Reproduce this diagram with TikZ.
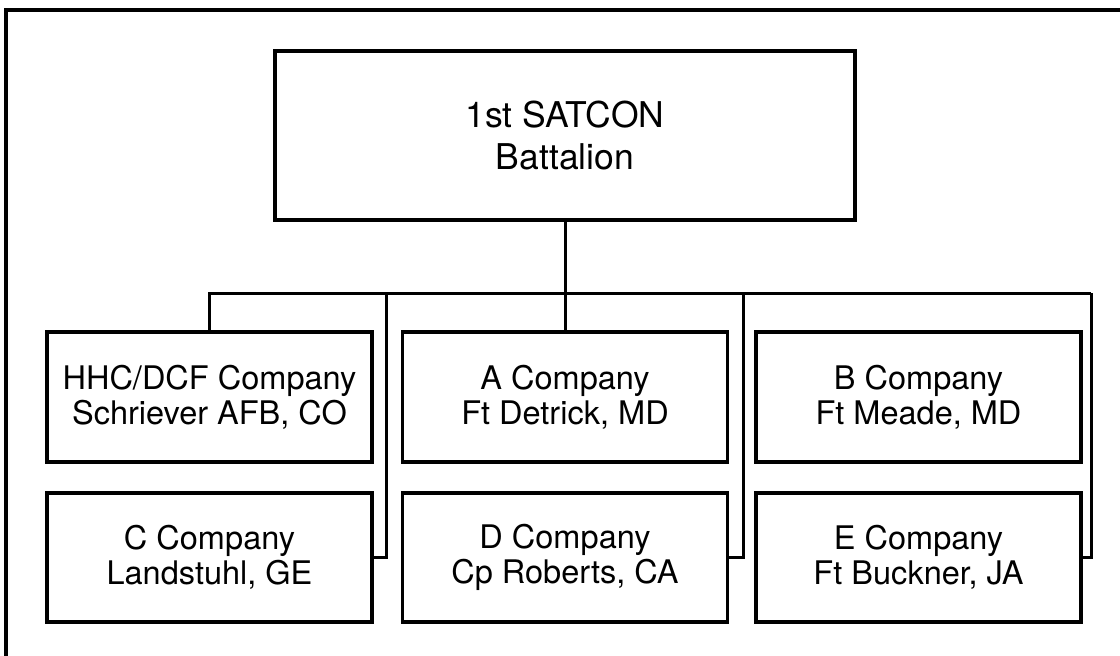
\documentclass[tikz,border=0pt]{standalone}
\usepackage{fontspec}
\setmainfont{TeX Gyre Heros}
\begin{document}
\begin{tikzpicture}[x=1pt,y=-1pt,
  unitbox/.style={draw=black, line width=3.5pt, rectangle, inner sep=0pt, outer sep=0pt,
    minimum width=325pt, minimum height=130pt, align=center,
    font=\fontsize{32.5}{35}\selectfont},
  topbox/.style={draw=black, line width=3.5pt, rectangle, inner sep=0pt, outer sep=0pt,
    minimum width=580pt, minimum height=169pt, align=center,
    font=\fontsize{35.5}{42}\selectfont},
  link/.style={draw=black, line width=3pt},
  frame/.style={draw=black, line width=3.5pt}]
\useasboundingbox (0,0) rectangle (1120,656);
\coordinate (fbl) at (6,660);
\coordinate (ftl) at (6,10);
\coordinate (ftr) at (1124,10);
\draw[frame] (fbl) -- (ftl) -- (ftr);

\node[topbox] (top) at (565,135.5) {1st SATCON\\Battalion};

\node[unitbox] (hhc) at (209.5,397) {HHC/DCF Company\\Schriever AFB, CO};
\node[unitbox] (a) at (565,397) {A Company\\Ft Detrick, MD};
\node[unitbox] (b) at (918.5,397) {B Company\\Ft Meade, MD};
\node[unitbox, minimum height=129pt] (c) at (209.5,557.5) {C Company\\Landstuhl, GE};
\node[unitbox, minimum height=129pt] (d) at (565,557.5) {D Company\\Cp Roberts, CA};
\node[unitbox, minimum height=129pt] (e) at (918.5,557.5) {E Company\\Ft Buckner, JA};

\coordinate (bus1) at (386.5,293);
\coordinate (bus2) at (743,293);
\coordinate (busR) at (1091,293);

\draw[link] (top.south) -- (a.north);
\draw[link] (hhc.north) |- (busR);
\draw[link] (c.east) -| (bus1);
\draw[link] (d.east) -| (bus2);
\draw[link] (e.east) -| (busR);
\end{tikzpicture}
\end{document}
